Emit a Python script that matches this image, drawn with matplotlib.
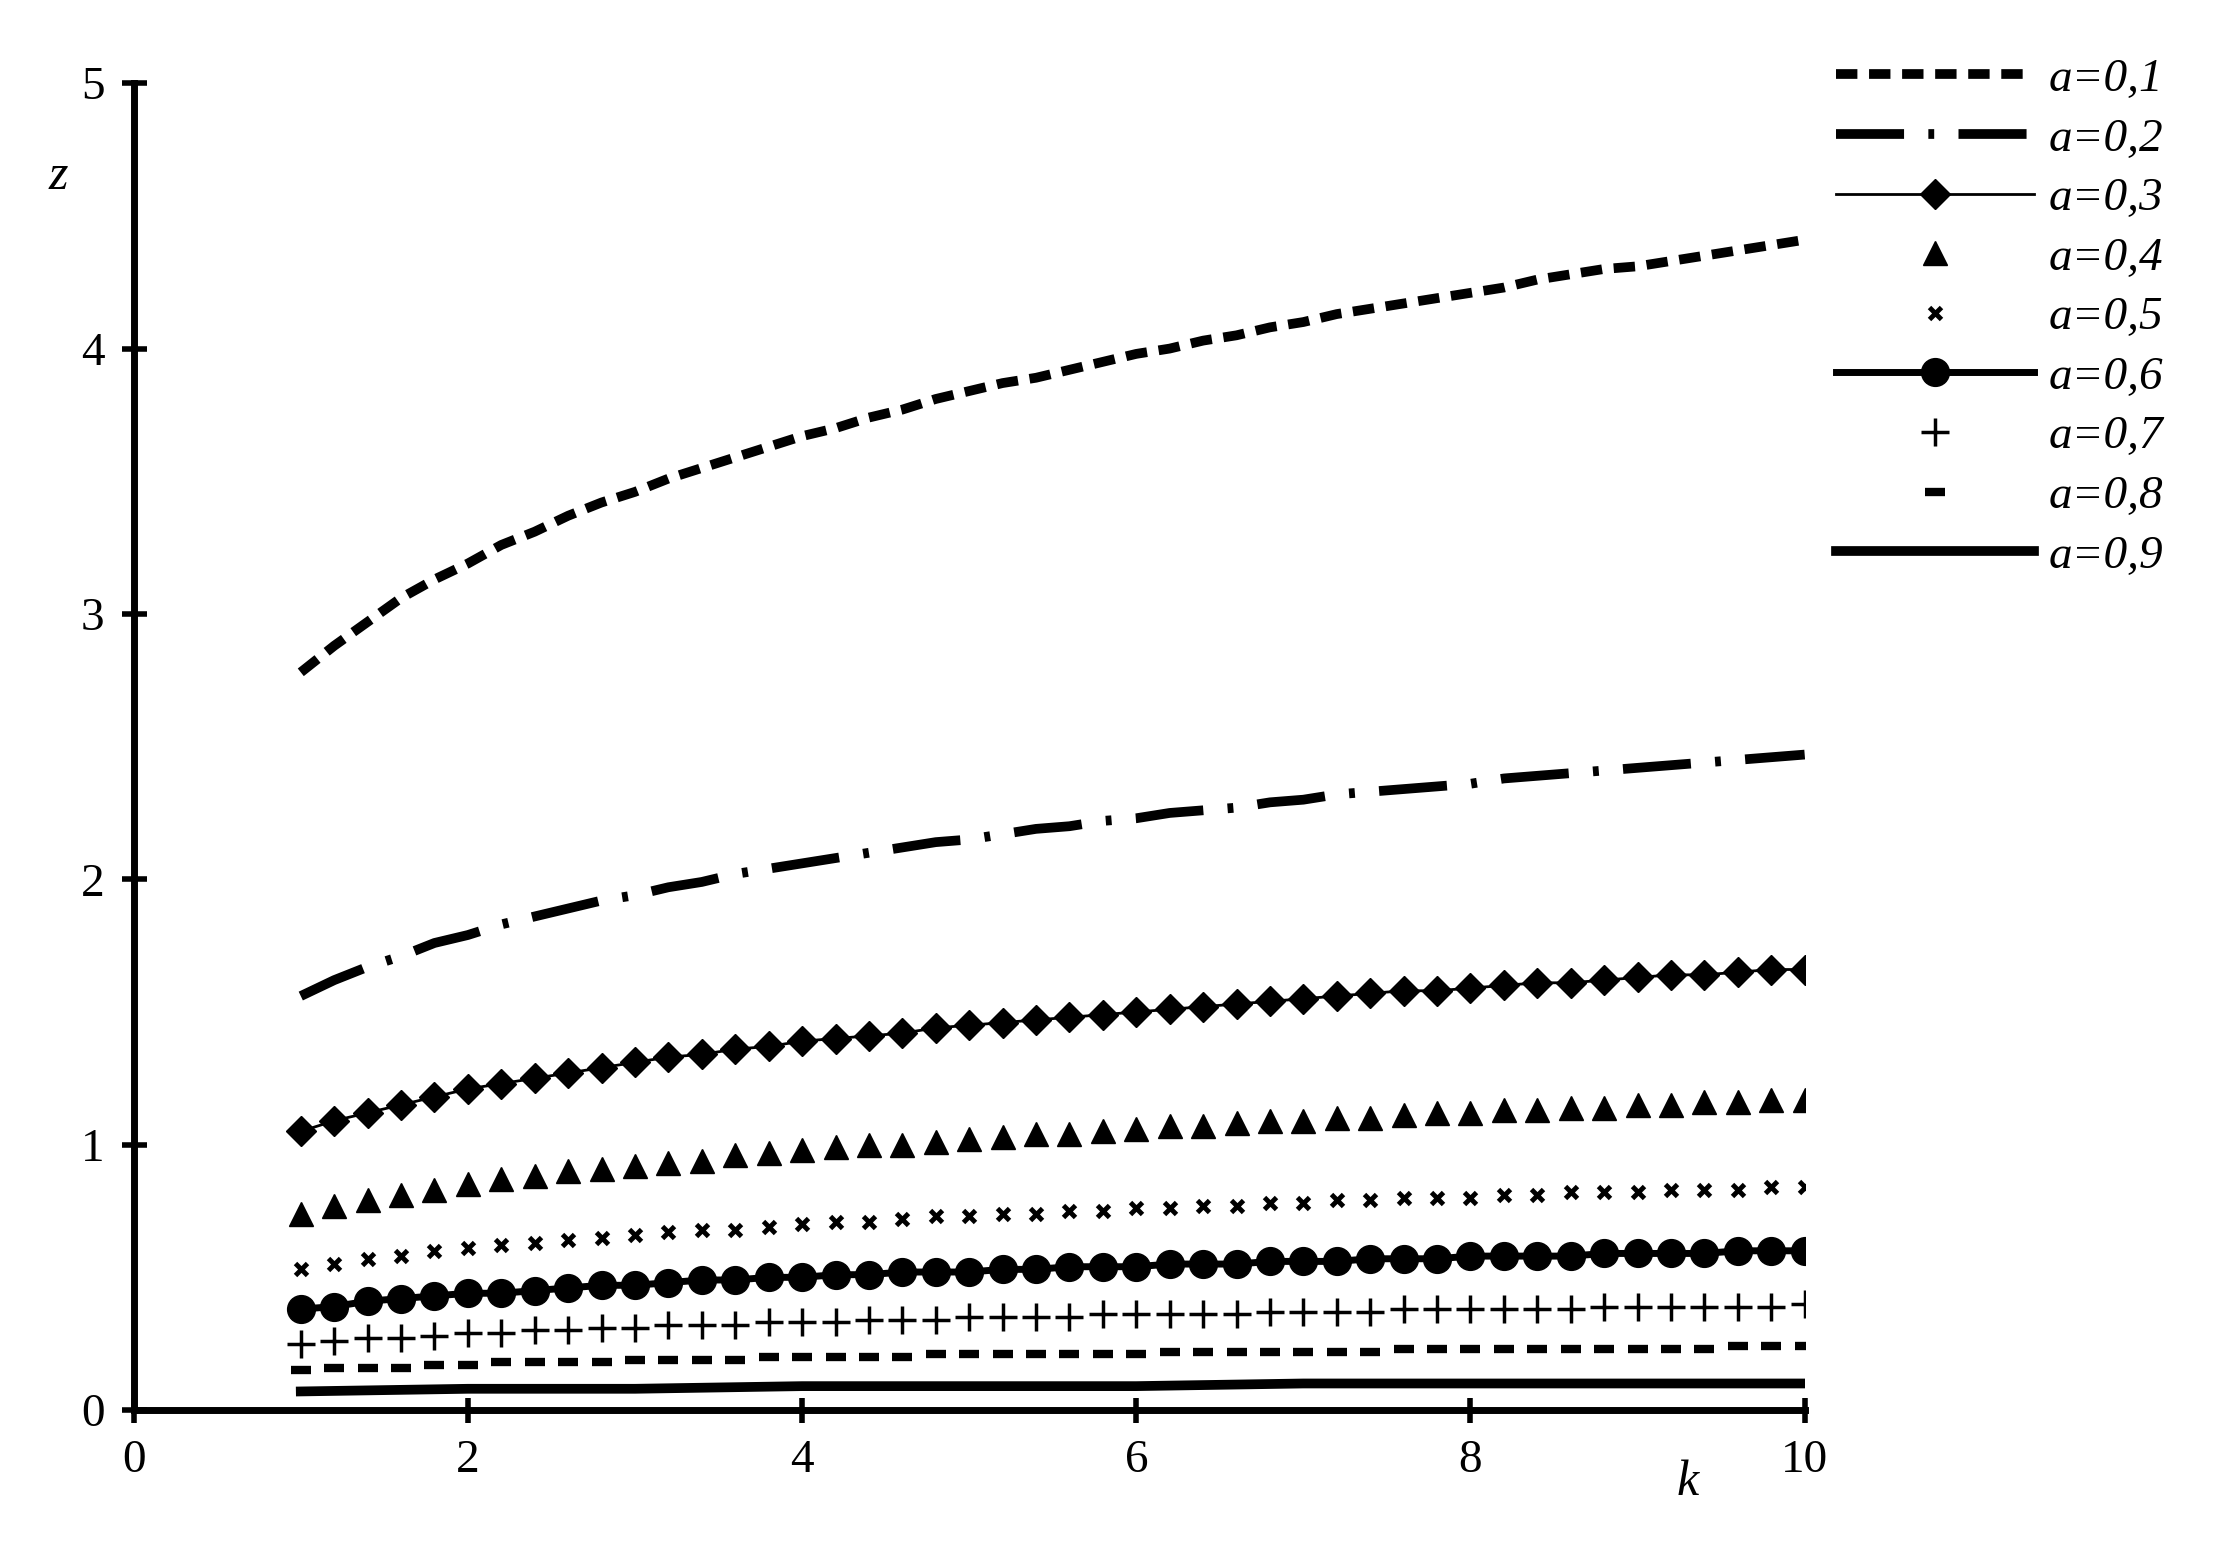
import matplotlib.pyplot as plt

plt.rcParams['font.family'] = ['Liberation Serif', 'DejaVu Serif']

# k grid used in the source chart (step 0.2 from 1 to 10)
k = [round(1 + 0.2 * i, 1) for i in range(46)]
k_int = [1, 2, 3, 4, 5, 6, 7, 8, 9, 10]

z01 = [2.78, 2.88, 2.97, 3.06, 3.13, 3.19, 3.26, 3.31, 3.37, 3.42, 3.46, 3.51, 3.55, 3.59, 3.63, 3.67,
       3.70, 3.74, 3.77, 3.81, 3.84, 3.87, 3.89, 3.92, 3.95, 3.98, 4.00, 4.03, 4.05, 4.08, 4.10, 4.13,
       4.15, 4.17, 4.19, 4.21, 4.23, 4.26, 4.28, 4.30, 4.31, 4.33, 4.35, 4.37, 4.39, 4.41]
z02 = [1.56, 1.62, 1.67, 1.71, 1.76, 1.79, 1.83, 1.86, 1.89, 1.92, 1.94, 1.97, 1.99, 2.02, 2.04, 2.06,
       2.08, 2.10, 2.12, 2.14, 2.15, 2.17, 2.19, 2.20, 2.22, 2.23, 2.25, 2.26, 2.27, 2.29, 2.30, 2.32,
       2.33, 2.34, 2.35, 2.36, 2.38, 2.39, 2.40, 2.41, 2.42, 2.43, 2.44, 2.45, 2.46, 2.47]
z03 = [1.05, 1.09, 1.12, 1.15, 1.18, 1.21, 1.23, 1.25, 1.27, 1.29, 1.31, 1.33, 1.34, 1.36, 1.37, 1.39,
       1.40, 1.41, 1.42, 1.44, 1.45, 1.46, 1.47, 1.48, 1.49, 1.50, 1.51, 1.52, 1.53, 1.54, 1.55, 1.56,
       1.57, 1.58, 1.58, 1.59, 1.60, 1.61, 1.61, 1.62, 1.63, 1.64, 1.64, 1.65, 1.66, 1.66]
z04 = [0.74, 0.77, 0.79, 0.81, 0.83, 0.85, 0.87, 0.88, 0.90, 0.91, 0.92, 0.93, 0.94, 0.96, 0.97, 0.98,
       0.99, 1.00, 1.00, 1.01, 1.02, 1.03, 1.04, 1.04, 1.05, 1.06, 1.07, 1.07, 1.08, 1.09, 1.09, 1.10,
       1.10, 1.11, 1.12, 1.12, 1.13, 1.13, 1.14, 1.14, 1.15, 1.15, 1.16, 1.16, 1.17, 1.17]
z05 = [0.53, 0.55, 0.57, 0.58, 0.60, 0.61, 0.62, 0.63, 0.64, 0.65, 0.66, 0.67, 0.68, 0.68, 0.69, 0.70,
       0.71, 0.71, 0.72, 0.73, 0.73, 0.74, 0.74, 0.75, 0.75, 0.76, 0.76, 0.77, 0.77, 0.78, 0.78, 0.79,
       0.79, 0.80, 0.80, 0.80, 0.81, 0.81, 0.82, 0.82, 0.82, 0.83, 0.83, 0.83, 0.84, 0.84]
z06 = [0.38, 0.39, 0.41, 0.42, 0.43, 0.44, 0.44, 0.45, 0.46, 0.47, 0.47, 0.48, 0.49, 0.49, 0.50, 0.50,
       0.51, 0.51, 0.52, 0.52, 0.52, 0.53, 0.53, 0.54, 0.54, 0.54, 0.55, 0.55, 0.55, 0.56, 0.56, 0.56,
       0.57, 0.57, 0.57, 0.58, 0.58, 0.58, 0.58, 0.59, 0.59, 0.59, 0.59, 0.60, 0.60, 0.60]
z07 = [0.25, 0.26, 0.27, 0.27, 0.28, 0.29, 0.29, 0.30, 0.30, 0.31, 0.31, 0.32, 0.32, 0.32, 0.33, 0.33,
       0.33, 0.34, 0.34, 0.34, 0.35, 0.35, 0.35, 0.35, 0.36, 0.36, 0.36, 0.36, 0.36, 0.37, 0.37, 0.37,
       0.37, 0.38, 0.38, 0.38, 0.38, 0.38, 0.38, 0.39, 0.39, 0.39, 0.39, 0.39, 0.39, 0.40]
z08 = [0.15, 0.16, 0.16, 0.16, 0.17, 0.17, 0.18, 0.18, 0.18, 0.18, 0.19, 0.19, 0.19, 0.19, 0.20, 0.20,
       0.20, 0.20, 0.20, 0.21, 0.21, 0.21, 0.21, 0.21, 0.21, 0.21, 0.22, 0.22, 0.22, 0.22, 0.22, 0.22,
       0.22, 0.23, 0.23, 0.23, 0.23, 0.23, 0.23, 0.23, 0.23, 0.23, 0.23, 0.24, 0.24, 0.24]
z09 = [0.07, 0.08, 0.08, 0.09, 0.09, 0.09, 0.10, 0.10, 0.10, 0.10]

labels = ['a=0,1', 'a=0,2', 'a=0,3', 'a=0,4', 'a=0,5', 'a=0,6', 'a=0,7', 'a=0,8', 'a=0,9']

fig = plt.figure(figsize=(22.28, 15.41), dpi=100)
ax = fig.add_axes([0.06, 0.085, 0.75, 0.861])

ax.plot(k, z01, color='black', lw=7, dashes=(2.2, 1.2), label=labels[0])
ax.plot(k, z02, color='black', lw=7, dashes=(7, 2.5, 0.6, 2.5), label=labels[1])
ax.plot(k, z03, color='black', lw=2, marker='D', ms=15, label=labels[2])
ax.plot(k, z04, color='black', lw=0, marker='^', ms=17, label=labels[3])
ax.plot(k, z05, color='black', lw=0, marker='x', ms=9, mew=3.5, label=labels[4])
ax.plot(k, z06, color='black', lw=5, marker='o', ms=20, label=labels[5])
ax.plot(k, z07, color='black', lw=0, marker='+', ms=20, mew=2.5, label=labels[6])
ax.plot(k, z08, color='black', lw=0, marker='_', ms=14, mew=6, label=labels[7])
ax.plot(k_int, z09, color='black', lw=7, label=labels[8])

ax.set_xlim(0, 10)
ax.set_ylim(0, 5)
ax.set_xticks([0, 2, 4, 6, 8, 10])
ax.set_yticks([0, 1, 2, 3, 4, 5])
ax.set_xticks([1, 3, 5, 7, 9], minor=True)
for s in ['top', 'right']:
    ax.spines[s].set_visible(False)
for s in ['left', 'bottom']:
    ax.spines[s].set_linewidth(5)
ax.tick_params(axis='both', which='major', direction='inout', length=18, width=4, labelsize=34, pad=12)
ax.tick_params(axis='both', which='minor', length=0)
ax.patch.set_alpha(0)

ax.text(-0.45, 4.6, 'z', fontsize=36, style='italic', ha='center')
ax.text(9.3, -0.32, 'k', fontsize=36, style='italic', ha='center')

fig.legend(loc='upper left', bbox_to_anchor=(0.805, 0.99), frameon=False, fontsize=34,
           prop={'style': 'italic', 'size': 34}, handlelength=4.2, labelspacing=0.35,
           handletextpad=0.3, numpoints=1)

fig.savefig('out.png', dpi=100)
